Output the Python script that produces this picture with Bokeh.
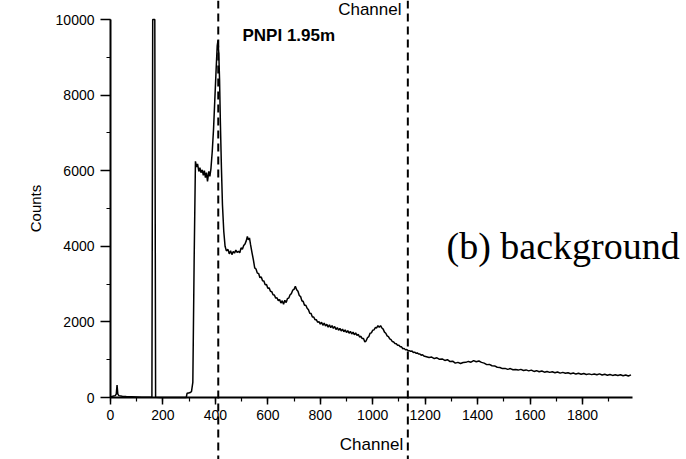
from bokeh.plotting import figure
from bokeh.models import Range1d, LinearAxis, SingleIntervalTicker, Span, Label
from bokeh.embed import file_html
from bokeh.resources import INLINE

# ---- data (channel, counts), by region ----
ch_low = [0, 6, 12, 18, 22, 25, 28, 32, 45, 60, 80, 100, 120, 140, 158,
          161, 169, 172, 190, 220, 250, 280, 289, 292, 298, 304, 309, 314]
ct_low = [0, 30, 40, 50, 90, 330, 90, 50, 35, 25, 20, 15, 10, 8, 5,
          10000, 10000, 5, 0, 0, 0, 0, 0, 110, 120, 130, 160, 400]

ch_plateau = [319, 324, 328, 332, 337, 341, 345, 350, 354, 358, 362, 366, 370, 375, 379, 383]
ct_plateau = [3600, 6250, 6100, 6180, 5980, 6080, 5950, 6020, 5880, 6000, 5820, 5950, 5720, 5980, 5850, 6050]

ch_peak = [388, 393, 398, 403, 407, 410, 413, 416, 419, 423, 427, 432, 437, 442]
ct_peak = [6500, 7100, 7900, 8700, 9300, 9450, 9100, 8400, 7300, 6100, 5100, 4400, 4000, 3880]

ch_shoulder = [448, 453, 458, 463, 468, 473, 478, 483, 488, 493, 498, 503, 508, 513, 518, 522, 526, 530, 534]
ct_shoulder = [3920, 3800, 3880, 3780, 3860, 3820, 3900, 3840, 3870, 3830, 3960, 3920, 4020, 4060, 4150, 4260, 4170, 4220, 4050]

ch_mid = [540, 545, 550, 555, 560, 565, 570, 575, 580, 585, 590, 595, 600, 605, 610, 615, 620, 625,
          630, 635, 640, 645, 650, 655, 660, 665, 670, 675, 680, 685, 690, 695, 700, 705, 710, 715,
          720, 725, 730, 735, 740, 745, 750, 755, 760, 765, 770, 775, 780, 785, 790, 795, 800, 805,
          810, 815, 820, 825, 830, 835, 840, 845, 850, 855, 860, 865, 870, 875, 880, 885, 890, 895,
          900, 905, 910, 915, 920, 925, 930, 935, 940, 945, 950, 955, 960, 965, 970]
ct_mid = [3820, 3640, 3430, 3400, 3290, 3280, 3170, 3190, 3090, 3080,
          2980, 2990, 2890, 2900, 2810, 2800, 2720, 2710, 2630, 2640,
          2560, 2590, 2500, 2560, 2470, 2570, 2510, 2620, 2630, 2720,
          2750, 2840, 2860, 2940, 2850, 2810, 2700, 2670, 2560, 2540,
          2440, 2440, 2360, 2320, 2230, 2220, 2130, 2130, 2060, 2060,
          1990, 2010, 1940, 1990, 1910, 1970, 1890, 1940, 1860, 1920,
          1850, 1900, 1830, 1880, 1800, 1850, 1780, 1830, 1760, 1810,
          1740, 1790, 1720, 1770, 1700, 1750, 1680, 1730, 1660, 1710,
          1640, 1670, 1600, 1620, 1560, 1560, 1470]

ch_high = [975, 980, 985, 990, 995, 1000, 1005, 1010, 1015, 1020, 1025, 1030, 1035, 1040, 1045,
           1050, 1055, 1060, 1065, 1070, 1075, 1080, 1085, 1090, 1095, 1100, 1105, 1110, 1115, 1120,
           1125, 1130, 1135, 1140, 1145, 1150, 1155, 1160, 1165, 1170, 1175, 1180, 1185, 1190, 1195]
ct_high = [1500, 1580, 1610, 1700, 1710, 1780, 1790, 1850, 1840, 1900,
           1860, 1900, 1840, 1810, 1730, 1700, 1630, 1610, 1550, 1530,
           1480, 1470, 1430, 1420, 1380, 1380, 1340, 1340, 1290, 1300,
           1260, 1270, 1240, 1240, 1220, 1230, 1190, 1200, 1170, 1180,
           1150, 1150, 1120, 1130, 1100]

ch_tail = [1205, 1215, 1225, 1235, 1245, 1255, 1265, 1275, 1285, 1295, 1305, 1315, 1325, 1335, 1345, 1355,
           1365, 1375, 1385, 1395, 1405, 1415, 1425, 1435, 1445, 1455, 1465, 1475, 1485, 1495, 1505, 1515,
           1525, 1535, 1545, 1555, 1565, 1575, 1585, 1595, 1605, 1615, 1625, 1635, 1645, 1655, 1665, 1675,
           1685, 1695, 1705, 1715, 1725, 1735, 1745, 1755, 1765, 1775, 1785, 1795, 1805, 1815, 1825, 1835,
           1845, 1855, 1865, 1875, 1885, 1895, 1905, 1915, 1925, 1935, 1945, 1955, 1965, 1975, 1985]
ct_tail = [1080, 1060, 1070, 1030, 1050, 1010, 1020, 980, 1000, 950, 960, 910, 930, 900, 925, 930,
           955, 935, 975, 945, 965, 930, 910, 870, 875, 840, 835, 800, 795, 765, 770, 745,
           765, 735, 740, 725, 745, 715, 730, 705, 725, 690, 710, 680, 700, 670, 690, 665,
           680, 655, 675, 645, 665, 640, 655, 630, 650, 620, 640, 615, 635, 610, 625, 605,
           620, 600, 625, 595, 615, 590, 610, 585, 600, 580, 600, 575, 595, 570, 600]

channel = ch_low + ch_plateau + ch_peak + ch_shoulder + ch_mid + ch_high + ch_tail
counts = ct_low + ct_plateau + ct_peak + ct_shoulder + ct_mid + ct_high + ct_tail

window_channels = [411, 1134]
x_tick_interval = 200
y_tick_interval = 2000
x_axis_bounds = (0, 1990)
y_axis_bounds = (0, 10000)

FONT = "Liberation Sans"
W, H = 686, 459

p = figure(width=W, height=H,
           x_range=Range1d(-419.5, 2196.8), y_range=Range1d(-1640, 10503),
           output_backend="svg", toolbar_location=None,
           x_axis_location=None, y_axis_location=None, min_border=0)
p.outline_line_color = None
p.grid.visible = False
p.background_fill_color = "white"

p.line(channel, counts, line_color="black", line_width=1.5)

xaxis = LinearAxis(ticker=SingleIntervalTicker(interval=x_tick_interval, num_minor_ticks=2),
                   fixed_location=0, bounds=x_axis_bounds, axis_label="Channel")
yaxis = LinearAxis(ticker=SingleIntervalTicker(interval=y_tick_interval, num_minor_ticks=2),
                   fixed_location=0, bounds=y_axis_bounds, axis_label="Counts")
for ax in (xaxis, yaxis):
    ax.axis_line_width = 2
    ax.axis_line_color = "black"
    ax.major_tick_in = 0
    ax.minor_tick_in = 0
    ax.minor_tick_out = 4
    ax.major_tick_line_width = 1.5
    ax.minor_tick_line_width = 1.2
    ax.major_label_text_font = FONT
    ax.major_label_text_font_size = "14px"
    ax.major_label_text_color = "black"
    ax.axis_label_text_font = FONT
    ax.axis_label_text_font_style = "normal"
    ax.axis_label_text_color = "black"
xaxis.major_tick_out = 7
yaxis.major_tick_out = 10
xaxis.major_label_standoff = 5
yaxis.major_label_standoff = 6
xaxis.axis_label_text_font_size = "17px"
yaxis.axis_label_text_font_size = "15px"
xaxis.axis_label_standoff = 12
yaxis.axis_label_standoff = 9
p.add_layout(xaxis, "below")
p.add_layout(yaxis, "left")

for c in window_channels:
    p.add_layout(Span(location=c, dimension="height", line_color="black",
                      line_width=2, line_dash="8 5"))

p.add_layout(Label(x=242, y=H - 35, x_units="screen", y_units="screen", text="PNPI 1.95m",
                   text_font=FONT, text_font_style="bold", text_font_size="17px",
                   text_baseline="alphabetic", text_color="black"))
p.add_layout(Label(x=446, y=H - 245, x_units="screen", y_units="screen", text="(b) background",
                   text_font="Liberation Serif", text_font_size="38px",
                   text_baseline="alphabetic", text_color="black"))
p.add_layout(Label(x=401, y=H - 9, x_units="screen", y_units="screen", text="Channel",
                   text_font=FONT, text_font_size="17px", text_align="right",
                   text_baseline="alphabetic", text_color="black"))

open("out.html", "w").write(file_html(p, INLINE))
